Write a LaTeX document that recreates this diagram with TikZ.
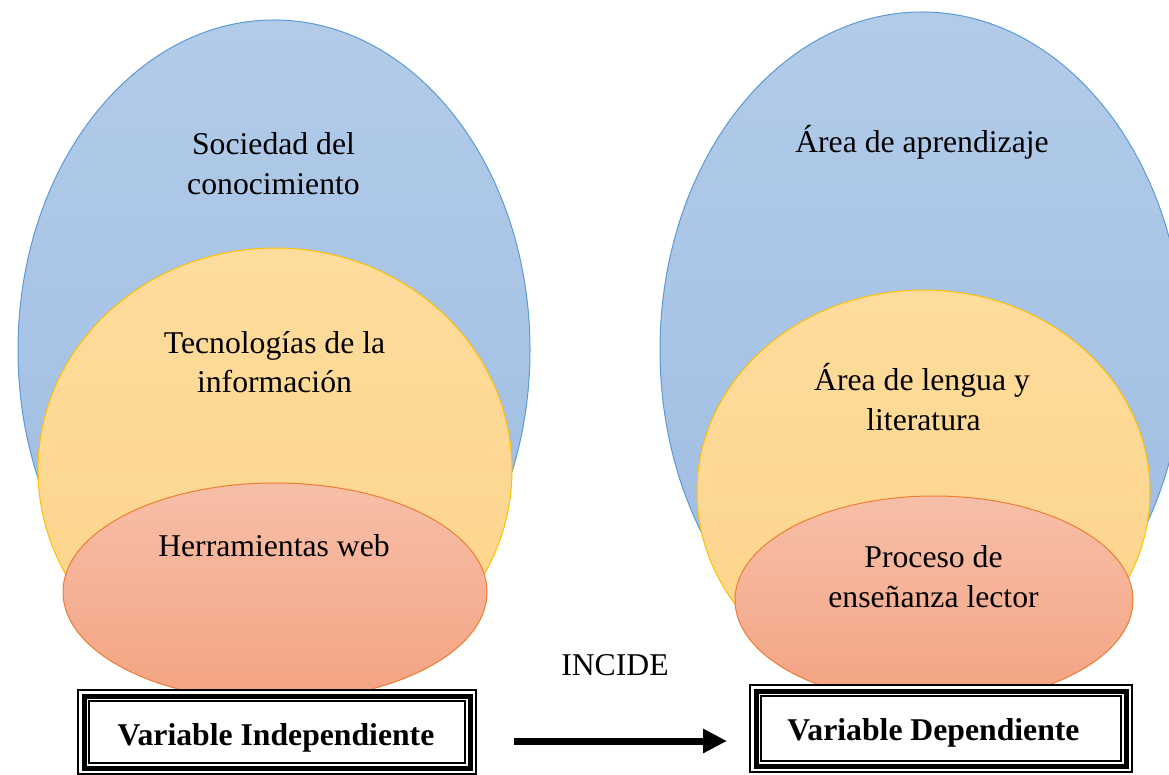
\documentclass[tikz,border=0pt]{standalone}
\usepackage{fontspec}
\setmainfont{Liberation Serif}
\usetikzlibrary{shapes.geometric,arrows.meta}
\definecolor{bluetop}{RGB}{178,203,232}
\definecolor{bluebot}{RGB}{157,188,227}
\definecolor{bstroke}{RGB}{91,155,213}
\definecolor{yeltop}{RGB}{254,220,156}
\definecolor{yelbot}{RGB}{253,212,138}
\definecolor{ystroke}{RGB}{255,192,0}
\definecolor{redtop}{RGB}{247,191,168}
\definecolor{redbot}{RGB}{244,163,130}
\definecolor{rstroke}{RGB}{237,125,49}
\newcommand\myframe[1]{%
  \draw[line width=2pt] ([shift={(1,-1)}]#1.north west) rectangle ([shift={(-1,1)}]#1.south east);
  \draw[line width=5pt] ([shift={(7,-7)}]#1.north west) rectangle ([shift={(-7,7)}]#1.south east);
  \draw[line width=2pt] ([shift={(12,-12)}]#1.north west) rectangle ([shift={(-12,12)}]#1.south east);
}
\begin{document}
\begin{tikzpicture}[x=1pt,y=1pt,
  blob/.style={ellipse, inner sep=0pt, line width=1pt},
  blueblob/.style={blob, draw=bstroke, top color=bluetop, bottom color=bluebot},
  yelblob/.style={blob, draw=ystroke, top color=yeltop, bottom color=yelbot},
  redblob/.style={blob, draw=rstroke, top color=redtop, bottom color=redbot},
  lbl/.style={font=\fontsize{31.7}{40}\selectfont, anchor=base, inner sep=0pt},
  blbl/.style={font=\fontsize{31.7}{40}\selectfont\bfseries, anchor=base, inner sep=0pt},
  framebox/.style={fill=white, inner sep=0pt, outer sep=0pt},
  bigarrow/.style={line width=7pt, -{Triangle[length=24pt,width=23pt]}}]
\useasboundingbox (0,0) rectangle (1169,-775);
\clip (0,0) rectangle (1169,-775);

% left group
\node[blueblob, minimum width=512, minimum height=660] (lb) at (274,-350) {};
\node[yelblob, minimum width=474, minimum height=444] (ly) at (275,-470) {};
\node[redblob, minimum width=424, minimum height=218] (lr) at (275,-592) {};

% right group
\node[blueblob, minimum width=524, minimum height=676] (rb) at (922,-350) {};
\node[yelblob, minimum width=453, minimum height=404] (ry) at (923.5,-492) {};
\node[redblob, minimum width=398, minimum height=208] (rr) at (934,-600) {};

% boxes
\node[framebox, minimum width=400, minimum height=86] (vi) at (277,-732) {};
\node[framebox, minimum width=384, minimum height=89] (vd) at (941,-728.5) {};
\myframe{vi}
\myframe{vd}

% labels
\node[lbl] (t1a) at (273.5,-155) {Sociedad del};
\node[lbl] (t1b) at (273.5,-195) {conocimiento};
\node[lbl] (t2a) at (274.5,-353) {Tecnologías de la};
\node[lbl] (t2b) at (274.5,-392) {información};
\node[lbl] (t3) at (274,-556) {Herramientas web};

\node[lbl] (u1) at (922,-153) {Área de aprendizaje};
\node[lbl] (u2a) at (922,-390) {Área de lengua y};
\node[lbl] (u2b) at (923.5,-430) {literatura};
\node[lbl] (u3a) at (933.5,-567) {Proceso de};
\node[lbl] (u3b) at (933.5,-607) {enseñanza lector};

\node[lbl] (inc) at (615,-675) {INCIDE};
\node[blbl] (vil) at (276,-745) {Variable Independiente};
\node[blbl] (vdl) at (933.5,-740) {Variable Dependiente};

% arrow
\coordinate (as) at (514,-741);
\coordinate (ae) at (727,-741);
\draw[bigarrow] (as) -- (ae);
\end{tikzpicture}
\end{document}
